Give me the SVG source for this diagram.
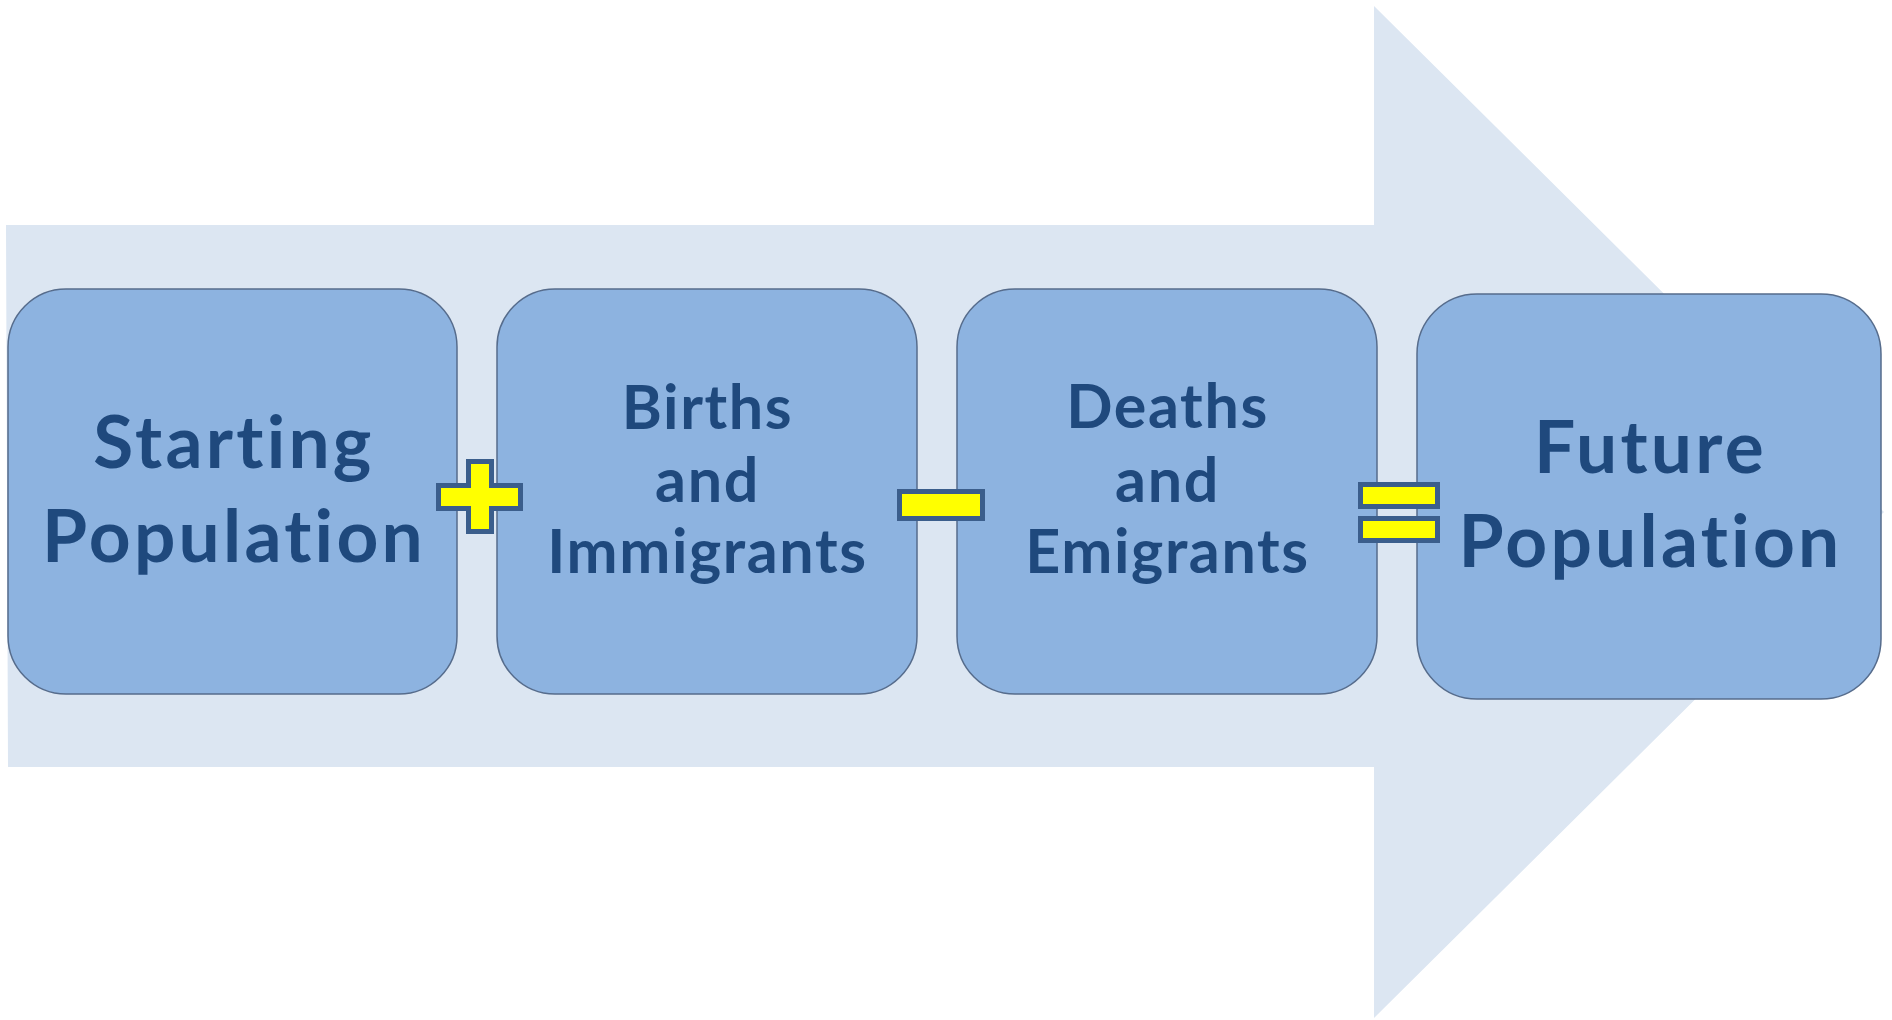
<svg xmlns="http://www.w3.org/2000/svg" width="1892" height="1020" viewBox="0 0 1892 1020">
<style>
.bg{fill:#DCE6F2}
.box{fill:#8DB3E0;stroke:#566C8C;stroke-width:1.5}
.t{font-family:Lato,"Open Sans","Liberation Sans",sans-serif;font-weight:700;fill:#1F497D;text-anchor:middle;font-variant-ligatures:none;font-feature-settings:"liga" 0,"clig" 0}
.s{font-size:61px;letter-spacing:1.6px}
.b{font-size:73px;letter-spacing:3.25px}
.op{fill:#FFFF00;stroke:#3B5E8C;stroke-width:5}
</style>
<rect width="1892" height="1020" fill="#FFFFFF"/>
<polygon id="arrow" class="bg" points="6,225 1374,225 1374,6 1884,512 1374,1018 1374,767 8,767"/>
<g id="node-starting">
<rect class="box" x="8" y="289" width="449" height="405" rx="58" ry="58"/>
<text class="t b" x="234" y="468">Starting</text>
<text class="t b" x="234" y="562">Population</text>
</g>
<g id="node-births">
<rect class="box" x="497" y="289" width="420" height="405" rx="58" ry="58"/>
<text class="t s" x="707.5" y="429">Births</text>
<text class="t s" x="707.5" y="502">and</text>
<text class="t s" x="707.5" y="573">Immigrants</text>
</g>
<g id="node-deaths">
<rect class="box" x="957" y="289" width="420" height="405" rx="58" ry="58"/>
<text class="t s" x="1167.5" y="428">Deaths</text>
<text class="t s" x="1167.5" y="502">and</text>
<text class="t s" x="1167.5" y="573">Emigrants</text>
</g>
<g id="node-future">
<rect class="box" x="1417" y="294" width="464" height="405" rx="60" ry="60"/>
<text class="t b" x="1650.5" y="473">Future</text>
<text class="t b" x="1650.5" y="567">Population</text>
</g>
<g id="operators">
<path id="op-plus" class="op" d="M468.5,461.5 H491.5 V485.5 H520.5 V508.5 H491.5 V531.5 H468.5 V508.5 H438.5 V485.5 H468.5 Z"/>
<rect id="op-minus" class="op" x="899.5" y="491.5" width="83" height="27"/>
<g id="op-equals">
<rect class="op" x="1360.5" y="484.5" width="77" height="22"/>
<rect class="op" x="1360.5" y="518.5" width="77" height="22"/>
</g>
</g>
</svg>
